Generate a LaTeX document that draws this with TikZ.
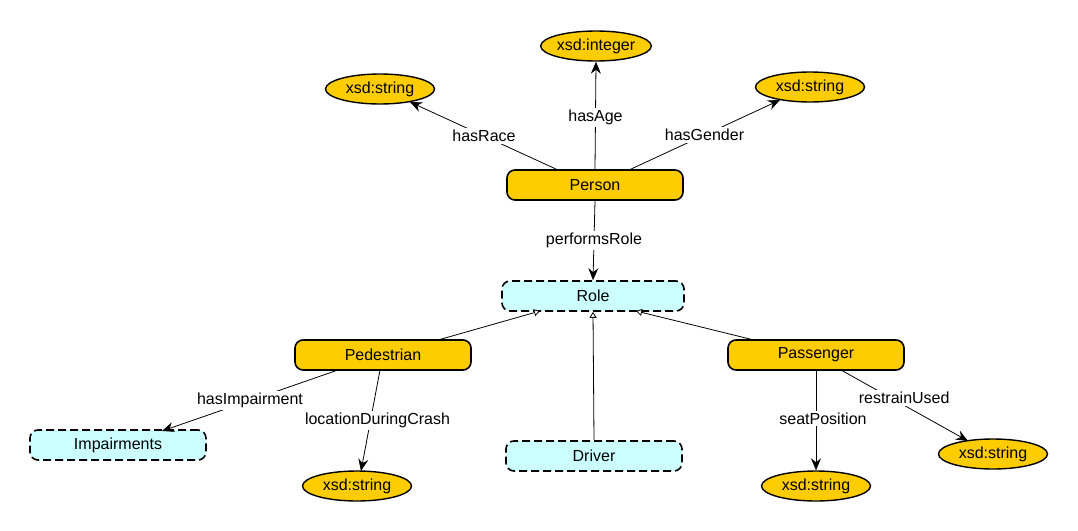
\documentclass[tikz,border=0pt]{standalone}
\usepackage{fontspec}
\setmainfont{Liberation Sans}
\usetikzlibrary{arrows.meta,shapes.geometric}
\definecolor{gold}{HTML}{FFCC00}
\definecolor{lcyan}{HTML}{CCFFFF}
\begin{document}
\begin{tikzpicture}[x=1pt,y=-1pt,font=\fontsize{16}{18}\selectfont,
  cls/.style={draw,line width=1.6pt,rounded corners=8pt,fill=gold,minimum width=176pt,minimum height=30pt,inner sep=0pt},
  abs/.style={draw,line width=1.6pt,dashed,dash pattern=on 8pt off 4pt,rounded corners=8pt,fill=lcyan,minimum width=176pt,minimum height=30pt,inner sep=0pt},
  lit/.style={draw,ellipse,line width=1.4pt,fill=gold,minimum width=109pt,minimum height=30pt,inner sep=0pt},
  rel/.style={draw,line width=0.8pt,-{Stealth[length=12pt,width=10pt,inset=4pt]}},
  isa/.style={draw,line width=0.8pt,-{Triangle[open,length=6pt,width=7pt,fill=white]}},
  lab/.style={fill=white,inner sep=2pt}]
\useasboundingbox (0,0) rectangle (1078,530);
\node[cls] (person) at (595,185) {Person};
\node[abs, minimum width=182pt] (role) at (593,296) {Role};
\node[cls] (ped) at (383,355) {Pedestrian};
\node[cls] (pas) at (816,355) {Passenger};
\node[abs] (imp) at (118,445) {Impairments};
\node[abs] (drv) at (594,456) {Driver};
\node[lit] (int) at (596,46) {xsd:integer};
\node[lit] (s1) at (380,89) {xsd:string};
\node[lit] (s2) at (810,87) {xsd:string};
\node[lit] (s3) at (357,486) {xsd:string};
\node[lit] (s4) at (816,486) {xsd:string};
\node[lit] (s5) at (993,454) {xsd:string};
\coordinate (pr) at (558,170);
\coordinate (pg) at (629,170);
\coordinate (s1t) at (410,102);
\coordinate (s2t) at (780,100);
\draw[rel] (person.north) -- node[lab,pos=0.48] {hasAge} (int.south);
\draw[rel] (pr) -- node[lab] {hasRace} (s1t);
\draw[rel] (pg) -- node[lab] {hasGender} (s2t);
\draw[rel] (person.south) -- node[lab] {performsRole} (role.north);
\coordinate (pedr) at (438,340);
\coordinate (rl) at (540,311);
\coordinate (pasl) at (754,340);
\coordinate (rr) at (636,311);
\draw[isa] (pedr) -- (rl);
\draw[isa] (pasl) -- (rr);
\draw[isa] (drv.north) -- (role.south);
\coordinate (pedb1) at (338,370);
\coordinate (pedb2) at (380,370);
\coordinate (impt) at (162,431);
\coordinate (s3t) at (361,471);
\draw[rel] (pedb1) -- node[lab] {hasImpairment} (impt);
\draw[rel] (pedb2) -- node[lab,pos=0.5,xshift=7pt] {locationDuringCrash} (s3t);
\draw[rel] (pas.south) -- node[lab,xshift=7pt,yshift=2pt] {seatPosition} (s4.north);
\coordinate (pasb) at (841,370);
\coordinate (s5t) at (968,441);
\draw[rel] (pasb) -- node[lab,pos=0.45,xshift=6pt,yshift=4pt] {restrainUsed} (s5t);
\end{tikzpicture}
\end{document}
